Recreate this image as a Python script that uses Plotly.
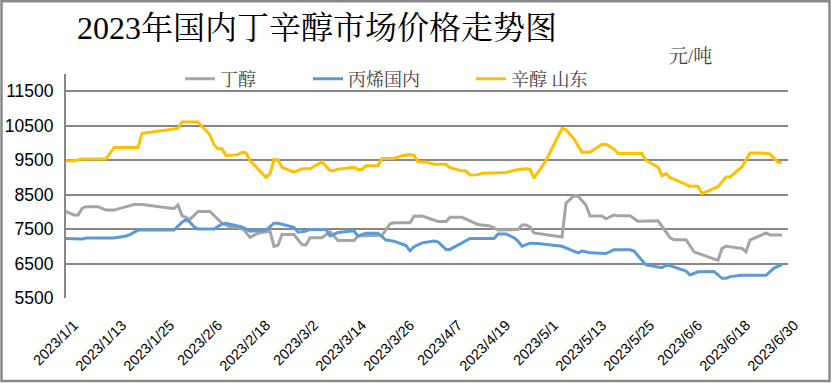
import pandas as pd
import plotly.graph_objects as go

# ---------------- data ----------------
start_date = "2023-01-01"

# 丁醇 (day offsets from 2023-01-01, values in 元/吨)
butanol_days = [0, 2, 3, 4, 5, 8, 10, 12, 16, 17, 19, 27, 28, 29, 31, 33, 36, 39, 41, 44,
                46, 48, 51, 52, 53, 54, 57, 59, 60, 61, 64, 66, 68, 72, 73, 79, 81, 82, 86, 87,
                89, 93, 95, 96, 99, 101, 103, 106, 108, 113, 114, 115, 116, 117, 124, 125, 127, 128, 130, 131,
                134, 135, 137, 138, 141, 143, 148, 149, 151, 152, 155, 157, 159, 163, 164, 165, 169, 170, 171, 175,
                176, 179]
butanol_vals = [8010, 7910, 7900, 8100, 8150, 8150, 8050, 8050, 8180, 8210, 8210, 8090, 8200, 7890, 7780, 8010, 8010, 7670, 7570, 7540,
                7260, 7380, 7440, 7000, 7030, 7340, 7340, 7050, 7040, 7250, 7250, 7420, 7170, 7170, 7300, 7320, 7650, 7680, 7680, 7870,
                7880, 7720, 7720, 7840, 7840, 7730, 7630, 7590, 7470, 7490, 7620, 7620, 7560, 7390, 7270, 8250, 8470, 8460, 8190, 7880,
                7880, 7800, 7910, 7890, 7890, 7730, 7740, 7580, 7250, 7190, 7190, 6840, 6750, 6590, 6940, 7000, 6940, 6840, 7180, 7390,
                7330, 7330]

# 丙烯国内
propylene_days = [0, 2, 4, 5, 12, 15, 16, 18, 27, 29, 30, 31, 32, 33, 37, 39, 40, 44, 45, 46,
                  50, 52, 53, 57, 58, 60, 61, 65, 66, 67, 68, 72, 73, 75, 78, 80, 82, 85, 86, 87,
                  89, 92, 93, 95, 96, 101, 107, 108, 110, 112, 113, 114, 116, 118, 124, 128, 129, 130, 131, 135,
                  137, 141, 142, 145, 149, 150, 151, 155, 156, 158, 162, 164, 165, 166, 169, 175, 177, 179]
propylene_vals = [7230, 7210, 7210, 7240, 7240, 7300, 7340, 7470, 7470, 7700, 7770, 7700, 7570, 7500, 7500, 7650, 7670, 7560, 7490, 7440,
                  7470, 7670, 7670, 7550, 7410, 7440, 7490, 7490, 7300, 7340, 7400, 7450, 7300, 7380, 7380, 7180, 7150, 7020, 6870, 6990,
                  7100, 7150, 7130, 6910, 6910, 7230, 7230, 7360, 7360, 7250, 7150, 7000, 7090, 7080, 7000, 6810, 6860, 6840, 6810, 6790,
                  6900, 6900, 6860, 6460, 6380, 6450, 6440, 6280, 6170, 6260, 6270, 6070, 6070, 6120, 6160, 6160, 6370, 6470]

# 辛醇 山东
octanol_days = [0, 2, 4, 10, 12, 18, 19, 28, 29, 33, 36, 37, 38, 39, 40, 43, 44, 45, 46, 50,
                51, 52, 53, 54, 57, 59, 61, 64, 66, 67, 68, 72, 73, 74, 75, 78, 79, 82, 84, 86,
                87, 88, 90, 92, 95, 96, 99, 100, 101, 103, 104, 107, 110, 113, 115, 116, 117, 120, 124, 125,
                127, 129, 131, 134, 135, 137, 138, 144, 145, 148, 149, 150, 151, 153, 156, 158, 159, 161, 163, 165,
                166, 169, 171, 174, 176, 178, 179]
octanol_vals = [9480, 9480, 9530, 9530, 9870, 9870, 10280, 10420, 10610, 10610, 10230, 9950, 9830, 9830, 9630, 9660, 9730, 9710, 9490, 9000,
                9110, 9520, 9510, 9290, 9150, 9250, 9250, 9450, 9200, 9200, 9240, 9290, 9230, 9230, 9340, 9340, 9550, 9550, 9630, 9660,
                9640, 9450, 9450, 9380, 9380, 9280, 9190, 9190, 9070, 9080, 9120, 9140, 9140, 9230, 9250, 9230, 8980, 9490, 10420, 10380,
                10110, 9730, 9730, 9960, 9960, 9820, 9690, 9690, 9490, 9300, 9050, 9110, 8990, 8900, 8740, 8740, 8530, 8630, 8730, 9010,
                9010, 9310, 9710, 9710, 9680, 9440, 9440]

series_names = ["丁醇", "丙烯国内", "辛醇 山东"]
series_colors = ["#A5A5A5", "#5B9BD5", "#FFC000"]

tick_day_offsets = [0, 12, 24, 36, 48, 60, 72, 84, 96, 108, 120, 132, 144, 156, 168, 180]
tick_labels = ["2023/1/1", "2023/1/13", "2023/1/25", "2023/2/6", "2023/2/18", "2023/3/2",
               "2023/3/14", "2023/3/26", "2023/4/7", "2023/4/19", "2023/5/1", "2023/5/13",
               "2023/5/25", "2023/6/6", "2023/6/18", "2023/6/30"]
y_ticks = [5500, 6500, 7500, 8500, 9500, 10500, 11500]

title_text = "2023年国内丁辛醇市场价格走势图"
unit_text = "元/吨"

# ---------------- figure ----------------
base = pd.Timestamp(start_date)


def to_dates(days):
    return [base + pd.Timedelta(days=d) for d in days]


W, H = 832, 383
ML, MR, MT, MB = 66, 44, 74, 85
PW, PH = W - ML - MR, H - MT - MB

CJK_SERIF = "Liberation Serif, Noto Serif CJK SC, Noto Sans CJK SC"
SANS = "Liberation Sans, Noto Sans CJK SC"
GRID = "#878787"

legend_names = ["legend", "legend2", "legend3"]
legend_left_px = [180, 308, 471]   # where each legend entry box starts

fig = go.Figure()
for name, days, vals, color, lg in zip(series_names,
                                       [butanol_days, propylene_days, octanol_days],
                                       [butanol_vals, propylene_vals, octanol_vals],
                                       series_colors, legend_names):
    fig.add_trace(go.Scatter(x=to_dates(days), y=vals, mode="lines", name=name,
                             line=dict(color=color, width=3), legend=lg))

legend_style = dict(orientation="h", xanchor="left", yanchor="middle",
                    y=(H - MB - 79) / PH,
                    font=dict(family=CJK_SERIF, size=18, color="#404040"),
                    bgcolor="rgba(0,0,0,0)", borderwidth=0)

fig.update_layout(
    width=W, height=H,
    margin=dict(l=ML, r=MR, t=MT, b=MB, pad=0, autoexpand=False),
    paper_bgcolor="white", plot_bgcolor="white",
    title=dict(text=title_text, x=77 / W, xref="container", xanchor="left",
               y=1 - 28 / H, yref="container", yanchor="middle",
               font=dict(family=CJK_SERIF, size=32, color="#000000")),
    legend=dict(x=(legend_left_px[0] - ML) / PW, **legend_style),
    legend2=dict(x=(legend_left_px[1] - ML) / PW, **legend_style),
    legend3=dict(x=(legend_left_px[2] - ML) / PW, **legend_style),
    showlegend=True,
)

fig.update_xaxes(
    type="date",
    range=[base, base + pd.Timedelta(days=180.5)],
    tickvals=to_dates(tick_day_offsets), ticktext=tick_labels,
    tickangle=-45, showgrid=False, zeroline=False, showline=False,
    ticks="outside", ticklen=12, tickcolor="rgba(0,0,0,0)",
    ticklabelshift=8,
    tickfont=dict(family=SANS, size=14.5, color="#000000"),
)
fig.update_yaxes(
    range=[5500, 12000], tickvals=y_ticks, ticktext=[str(v) for v in y_ticks],
    showgrid=True, gridcolor=GRID, gridwidth=2, zeroline=False,
    showline=True, linecolor=GRID, linewidth=2,
    ticks="outside", ticklen=7, tickcolor="rgba(0,0,0,0)",
    tickfont=dict(family=SANS, size=17.5, color="#000000"),
)

# unit label
fig.add_annotation(text=unit_text, xref="paper", yref="paper",
                   x=(714 - ML) / PW, xanchor="right",
                   y=(H - MB - 56) / PH, yanchor="middle", showarrow=False,
                   font=dict(family=CJK_SERIF, size=19, color="#404040"))

# outer frame of the chart
fig.add_shape(type="rect", xref="paper", yref="paper",
              x0=(1.5 - ML) / PW, x1=(829.5 - ML) / PW,
              y0=(H - MB - 381) / PH, y1=(H - MB - 1.2) / PH,
              line=dict(color="#898989", width=2.5), fillcolor="rgba(0,0,0,0)", layer="above")

# remove the browser's default page margin so the figure sits at (0, 0)
fig.write_html("out.html", config={"displayModeBar": False},
               post_script="document.body.style.margin='0';")
